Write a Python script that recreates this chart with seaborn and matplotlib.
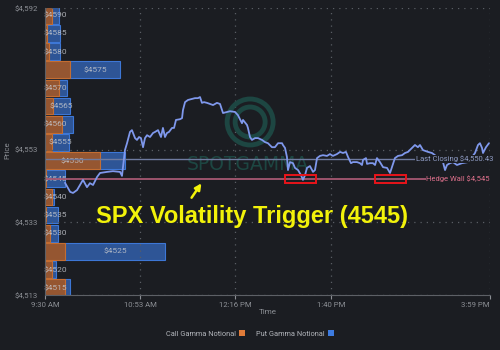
import numpy as np
import pandas as pd
import matplotlib
matplotlib.use("Agg")
import matplotlib.pyplot as plt
import seaborn as sns
from matplotlib.patches import Rectangle, Patch, Ellipse

# ---------------- data ----------------
strikes = [4515, 4520, 4525, 4530, 4535, 4540, 4545, 4550,
           4555, 4560, 4565, 4570, 4575, 4580, 4585, 4590]
call_notional = [20, 7, 20, 5, 1, 7, 1, 55, 7, 17, 8, 14, 25, 4, 2, 7]
put_notional = [5, 4, 100, 8, 12, 2, 19, 25, 17, 11, 17, 8, 50, 11, 13, 7]

# minutes after 9:30 AM and SPX price
minutes = [17.5, 22, 24.5, 28, 30.6, 33.2, 36.7, 39.3, 42, 45.5, 48.1, 54.2, 59.4,
           65.6, 67.3, 68.2, 69.9, 71.7, 74.3, 76, 78.7, 80.4, 82.2, 83.9, 85.7,
           87.4, 89.2, 91.8, 94.4, 96.2, 98.8, 101.4, 103.1, 104.9, 106.6, 108.4,
           111, 112.8, 114.5, 118, 119.8, 120.6, 122.4, 125, 128.5, 131.1, 133.7,
           135.5, 137.2, 139, 141.6, 144.2, 146.9, 150.3, 153, 154.7, 155.6, 159.1,
           161.7, 166.1, 168.7, 172.2, 173.1, 176.6, 177.4, 179.2, 180.9, 183.6,
           186.2, 189.7, 192.3, 194.9, 198.4, 201, 203.7, 207.2, 208, 209.8, 211.5,
           212.4, 214.2, 216.8, 218.5, 221.2, 223.8, 225.5, 227.3, 229, 231.6,
           234.3, 236, 237.8, 240.4, 243, 246.5, 249.1, 251.7, 255.2, 257.9, 260.5,
           263.1, 264.9, 267.5, 269.2, 272.7, 275.3, 277.1, 278, 280.6, 281.5,
           284.1, 286.7, 288.5, 290.2, 292.8, 295.5, 299, 301.6, 303.3, 305.9,
           308.6, 312.1, 314.7, 317.3, 320.8, 323.4, 326, 327.8, 330.4, 334.8,
           338.3, 340.9, 343.5, 347.9, 349.7, 351.4, 354, 356.6, 360.1, 364.5,
           369.8, 373.3, 375.9, 378.5, 380.2, 382, 382.9, 385.5, 388.1]
prices = [4543.9, 4541.4, 4541.1, 4541.9, 4543.3, 4544.7, 4542.7, 4543.8, 4543.3,
          4545.5, 4546.6, 4546.9, 4547.1, 4546.9, 4545.8, 4548.2, 4552.9, 4554.8,
          4557.9, 4558.4, 4556.2, 4555.7, 4556.5, 4556.2, 4553.7, 4556.2, 4557.0,
          4556.5, 4557.6, 4557.9, 4558.4, 4556.5, 4559.0, 4556.5, 4557.6, 4557.9,
          4559.0, 4559.0, 4561.2, 4561.4, 4561.7, 4563.9, 4566.1, 4566.7, 4567.0,
          4567.2, 4567.2, 4567.5, 4565.9, 4566.1, 4565.9, 4565.6, 4565.3, 4565.9,
          4565.6, 4563.9, 4563.1, 4563.4, 4563.6, 4563.4, 4562.5, 4560.3, 4561.2,
          4559.8, 4559.0, 4556.5, 4555.7, 4556.2, 4556.2, 4555.7, 4555.1, 4554.8,
          4553.7, 4553.7, 4554.8, 4554.8, 4554.3, 4553.5, 4551.0, 4547.4, 4549.6,
          4549.3, 4548.0, 4547.4, 4546.0, 4544.7, 4546.0, 4548.0, 4548.5, 4546.9,
          4547.4, 4550.7, 4551.3, 4551.5, 4551.3, 4551.8, 4551.3, 4551.8, 4552.4,
          4552.1, 4552.4, 4551.0, 4549.3, 4549.6, 4549.6, 4549.3, 4548.8, 4550.2,
          4550.7, 4549.1, 4549.3, 4549.3, 4548.8, 4550.7, 4549.6, 4548.2, 4548.0,
          4546.6, 4548.2, 4550.7, 4551.3, 4551.5, 4552.1, 4552.4, 4553.5, 4554.3,
          4553.7, 4554.3, 4552.9, 4552.4, 4552.1, 4551.5, 4550.7, 4549.6, 4547.4,
          4548.8, 4549.3, 4549.6, 4548.8, 4549.3, 4549.6, 4551.0, 4552.1, 4554.3,
          4554.8, 4553.5, 4552.1, 4553.7, 4554.8]

time_ticks = [0, 83, 166, 250, 389]
time_labels = ["9:30 AM", "10:53 AM", "12:16 PM", "1:40 PM", "3:59 PM"]
price_ticks = [4513, 4533, 4553, 4592]
price_labels = ["$4,513", "$4,533", "$4,553", "$4,592"]

last_close = 4550.43
hedge_wall = 4545
box_windows = [(209.8, 236.9), (288.5, 315.6)]
box_low, box_high = 4543.8, 4546.0

# ---------------- style ----------------
BG = '#1b1d22'
TICK = '#8c8f95'
CALL_FACE, CALL_EDGE = '#955631', '#c46d31'
PUT_FACE, PUT_EDGE = '#2e5596', '#3d77d6'
LINE = '#7f98ec'
WM = '#1d4642'

sns.set_theme(style='dark', rc={
    'axes.facecolor': BG, 'figure.facecolor': BG,
    'axes.edgecolor': '#5d6066', 'text.color': TICK,
    'axes.labelcolor': TICK, 'xtick.color': TICK, 'ytick.color': TICK,
})
plt.rcParams['font.family'] = ['Roboto', 'DejaVu Sans']

fig = plt.figure(figsize=(5, 3.5), dpi=100)
fig.patch.set_facecolor(BG)
ax = fig.add_axes([0.09, 0.157, 0.89, 0.82])
ax2 = ax.twiny()
ax.set_zorder(2)
ax2.set_zorder(1)
ax.patch.set_visible(False)

# gamma notional bars (stacked: total drawn first, call over it)
bars = pd.DataFrame({'strike': strikes, 'call': call_notional, 'put': put_notional})
bars['total'] = bars['call'] + bars['put']
sns.barplot(data=bars, x='total', y='strike', orient='y', native_scale=True,
            width=0.92, color=PUT_FACE, saturation=1, edgecolor=PUT_EDGE,
            linewidth=0.8, errorbar=None, ax=ax2)
sns.barplot(data=bars, x='call', y='strike', orient='y', native_scale=True,
            width=0.92, color=CALL_FACE, saturation=1, edgecolor=CALL_EDGE,
            linewidth=0.8, errorbar=None, ax=ax2)
for s, c, p in zip(strikes, call_notional, put_notional):
    xc = c / 2 if c >= p else c + p / 2
    xc = max(xc, 10)
    ax2.text(xc, s, f"${s}", ha='center', va='center', fontsize=6,
             color='#c3c6cc', alpha=0.85, zorder=5)
ax2.set_xlim(0, 445)
ax2.set_xticks([])
ax2.set_xlabel('')
ax2.set_ylabel('')
for sp in ax2.spines.values():
    sp.set_visible(False)

# grid
ax.set_xlim(0, 389)
ax.set_ylim(4513, 4592)
ax.set_xticks(time_ticks)
ax.set_xticklabels(time_labels)
ax.set_yticks(price_ticks)
ax.set_yticklabels(price_labels)
ax.grid(True, linestyle=(0, (1, 4)), color='#5a5d64', linewidth=0.9)
ax.tick_params(axis='both', labelsize=5.6, length=3, width=0.8, pad=2,
               colors=TICK)
ax.get_xticklabels()[-1].set_horizontalalignment('right')
for side in ['top', 'right']:
    ax.spines[side].set_visible(False)
for side in ['left', 'bottom']:
    ax.spines[side].set_color('#5d6066')
    ax.spines[side].set_linewidth(0.8)

# watermark
ax.text(0.457, 0.455, 'SPOTGAMMA', transform=ax.transAxes, ha='center', va='center',
        fontsize=13.5, color=WM, family='DejaVu Sans', zorder=1)
for w in (46, 30):
    ax.add_patch(Ellipse((0.461, 0.603), w / 445, w / 287, transform=ax.transAxes,
                         fill=False, edgecolor=WM, linewidth=3.5, zorder=1))

# reference lines
ax.axhline(last_close, color='#6f7ba0', linewidth=1.0, zorder=2)
ax.axhline(hedge_wall, color='#a65872', linewidth=1.3, zorder=2)
ax.text(1.007, last_close, f"Last Closing ${last_close:,.2f}", ha='right', va='center',
        fontsize=5.5, color='#8f9cc4', transform=ax.get_yaxis_transform(),
        clip_on=False, zorder=4,
        bbox=dict(boxstyle='square,pad=0.1', facecolor=BG, edgecolor='none'))
ax.text(1.0, hedge_wall, f"Hedge Wall ${hedge_wall:,}", ha='right', va='center',
        fontsize=5.5, color='#e0718d', transform=ax.get_yaxis_transform(),
        clip_on=False, zorder=4,
        bbox=dict(boxstyle='square,pad=0.1', facecolor=BG, edgecolor='none'))

# price line
sns.lineplot(x=minutes, y=prices, ax=ax, color=LINE, linewidth=1.3, zorder=3)

# highlight boxes
for x0, x1 in box_windows:
    ax.add_patch(Rectangle((x0, box_low), x1 - x0, box_high - box_low, fill=False,
                           edgecolor='#e8141a', linewidth=1.4, zorder=4))

# labels
ax.set_ylabel('Price', fontsize=5.6, color=TICK)
ax.yaxis.set_label_coords(-35 / 445, 0.505)
ax.set_xlabel('Time', fontsize=5.8, color=TICK)
ax.xaxis.set_label_coords(0.5, -0.05)

# annotation
fig.text(252 / 500, 1 - 216 / 350, 'SPX Volatility Trigger (4545)', ha='center',
         va='center', fontsize=17, fontweight='bold', family='Liberation Sans',
         color='#f2f20a')
ax.annotate('', xy=(203 / 500, 1 - 181 / 350), xycoords='figure fraction',
            xytext=(190 / 500, 1 - 200 / 350), textcoords='figure fraction',
            arrowprops=dict(arrowstyle='-|>', color='#f2f20a', lw=1.8,
                            mutation_scale=9))

# legend
handles = [Patch(facecolor='#e07b39', edgecolor='none', label='Call Gamma Notional'),
           Patch(facecolor='#3d7be0', edgecolor='none', label='Put Gamma Notional')]
leg = fig.legend(handles=handles, loc='center', bbox_to_anchor=(250 / 500, 1 - 334 / 350),
                 ncol=2, frameon=False, markerfirst=False, fontsize=5.3,
                 handlelength=0.9, handleheight=0.9, columnspacing=1.5,
                 handletextpad=0.4)
for t in leg.get_texts():
    t.set_color('#b3b6bc')

fig.savefig('out.png', dpi=100, facecolor=BG)
